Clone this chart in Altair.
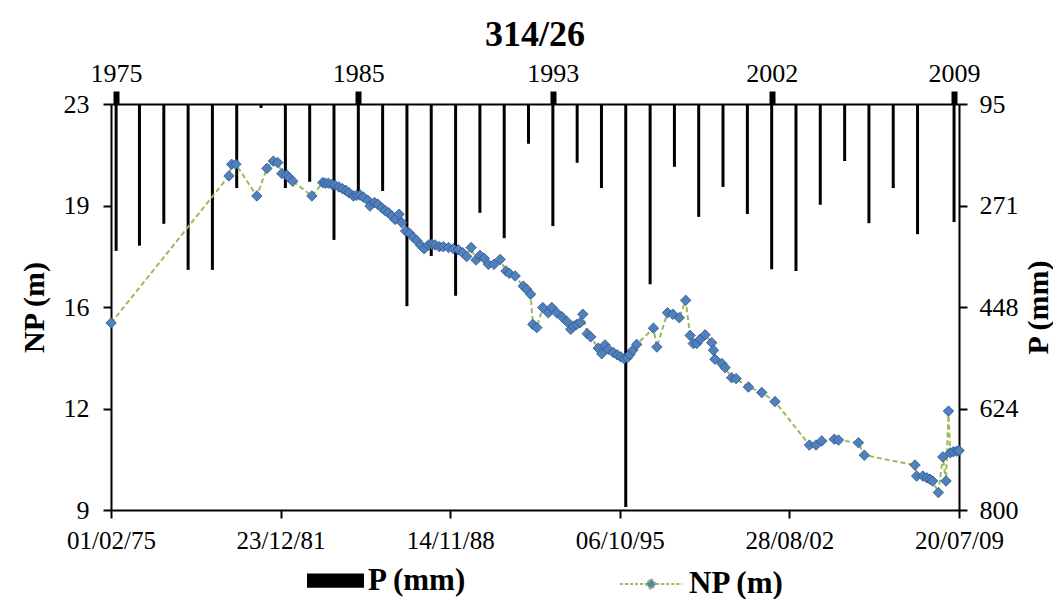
import altair as alt
import pandas as pd

FONT = "Liberation Serif"

# ---- NP (m): piezometric level, dates as decimal years ----
np_years = [1975.09, 1979.88, 1979.99, 1980.16, 1981.01, 1981.42, 1981.68, 1981.86, 1982.03, 1982.23, 1982.33, 1982.47,
            1983.25, 1983.69, 1983.79, 1983.92, 1984.06, 1984.19, 1984.35, 1984.49, 1984.63, 1984.76, 1984.94, 1985.07,
            1985.21, 1985.34, 1985.52, 1985.61, 1985.79, 1985.93, 1986.09, 1986.22, 1986.36, 1986.50, 1986.63, 1986.79,
            1986.90, 1987.06, 1987.22, 1987.37, 1987.51, 1987.67, 1987.81, 1987.98, 1988.12, 1988.26, 1988.43, 1988.59,
            1988.80, 1989.00, 1989.20, 1989.38, 1989.54, 1989.72, 1989.92, 1990.08, 1990.25, 1990.42, 1990.65, 1990.90,
            1991.14, 1991.27, 1991.51, 1991.84, 1991.98, 1992.14, 1992.23, 1992.39, 1992.63, 1992.86, 1993.00, 1993.20,
            1993.41, 1993.61, 1993.77, 1993.88, 1994.01, 1994.15, 1994.26, 1994.44, 1994.58, 1994.89, 1995.03, 1995.16,
            1995.30, 1995.50, 1995.66, 1995.80, 1995.94, 1996.07, 1996.18, 1996.29, 1996.45, 1997.13, 1997.27, 1997.70,
            1997.92, 1998.18, 1998.44, 1998.62, 1998.75, 1998.89, 1999.03, 1999.23, 1999.50, 1999.57, 1999.63, 1999.91,
            2000.04, 2000.31, 2000.49, 2000.99, 2001.53, 2002.07, 2003.47, 2003.74, 2003.97, 2004.48, 2004.65, 2005.46,
            2005.70, 2007.76, 2007.83, 2008.08, 2008.24, 2008.37, 2008.48, 2008.71, 2008.89, 2009.02, 2009.12, 2009.19,
            2009.32, 2009.46, 2009.55]
np_levels = [15.45, 20.52, 20.92, 20.92, 19.83, 20.78, 21.03, 20.98, 20.60, 20.55, 20.46, 20.34,
             19.83, 20.29, 20.27, 20.27, 20.23, 20.20, 20.14, 20.08, 20.02, 19.94, 19.83, 19.85,
             19.86, 19.79, 19.68, 19.48, 19.60, 19.54, 19.42, 19.33, 19.25, 19.14, 19.02, 19.20,
             18.91, 18.62, 18.54, 18.40, 18.29, 18.13, 18.01, 18.13, 18.16, 18.14, 18.08, 18.08,
             18.05, 18.01, 17.97, 17.87, 17.74, 18.05, 17.62, 17.78, 17.68, 17.47, 17.47, 17.64,
             17.24, 17.16, 17.07, 16.72, 16.61, 16.44, 15.40, 15.29, 15.98, 15.80, 15.98, 15.80,
             15.66, 15.50, 15.23, 15.34, 15.40, 15.46, 15.75, 15.08, 14.97, 14.58, 14.39, 14.69,
             14.54, 14.43, 14.35, 14.28, 14.22, 14.25, 14.37, 14.51, 14.71, 15.27, 14.62, 15.80,
             15.75, 15.63, 16.23, 15.02, 14.74, 14.74, 14.89, 15.04, 14.77, 14.51, 14.20, 14.05,
             13.91, 13.56, 13.53, 13.24, 13.05, 12.74, 11.24, 11.24, 11.38, 11.44, 11.41, 11.32,
             10.89, 10.55, 10.17, 10.17, 10.11, 10.06, 10.00, 9.60, 10.83, 10.00, 12.41, 10.97,
             11.01, 11.03, 11.05]

# ---- P (mm): annual precipitation, one bar per year ----
p_label_years = list(range(1975, 2010))
p_years = [1975.09, 1976.05, 1977.05, 1978.05, 1979.05, 1980.05, 1981.05, 1982.05, 1983.05, 1984.05,
           1985.05, 1986.05, 1987.05, 1988.05, 1989.05, 1990.05, 1991.05, 1992.05, 1993.05, 1994.05,
           1995.05, 1996.05, 1997.05, 1998.05, 1999.05, 2000.05, 2001.05, 2002.05, 2003.05, 2004.05,
           2005.05, 2006.05, 2007.05, 2008.05, 2009.55]
p_mm = [350, 341, 303, 383, 383, 241, 102, 241, 230, 331,
        258, 246, 446, 359, 428, 284, 328, 164, 307, 197,
        241, 795, 408, 204, 291, 239, 286, 382, 385, 270,
        194, 302, 241, 321, 300]
p_base = 95

top_label_years = [1975, 1985, 1993, 2002, 2009]
bottom_dates = ["1975-02-01", "1981-12-23", "1988-11-14", "1995-10-06", "2002-08-28", "2009-07-20"]
np_ticks = [9, 12.5, 16, 19.5, 23]
p_ticks = [95, 271.25, 447.5, 623.75, 800]


def year_to_ms(y):
    yi = int(y)
    a = pd.Timestamp(year=yi, month=1, day=1)
    b = pd.Timestamp(year=yi + 1, month=1, day=1)
    t = a + (b - a) * (y - yi)
    return int(round(t.timestamp() * 1000))


def date_to_ms(s):
    return int(pd.Timestamp(s).timestamp() * 1000)


x_dom = [date_to_ms(bottom_dates[0]), date_to_ms(bottom_dates[-1])]
bottom_ms = [date_to_ms(s) for s in bottom_dates]
top_ms = [year_to_ms(p_years[p_label_years.index(y)]) for y in top_label_years]

df_np = pd.DataFrame({"t": [year_to_ms(y) for y in np_years], "np": np_levels, "s": "NP (m)"})
df_p = pd.DataFrame({"t": [year_to_ms(y) for y in p_years], "p": p_mm, "s": "P (mm)"})

common_axis = dict(domainColor="black", domainWidth=2, tickColor="black",
                   labelFont=FONT, labelColor="black", grid=False,
                   titleFont=FONT, titleColor="black", titleFontWeight="bold", titleFontSize=30)

bars = alt.Chart(df_p).mark_bar(size=3).encode(
    x=alt.X("t:T", scale=alt.Scale(type="utc", domain=x_dom, nice=False),
            axis=alt.Axis(orient="top", values=top_ms, labelExpr="utcFormat(datum.value, '%Y')",
                          title=None, tickSize=13, tickWidth=6, labelPadding=5, labelFontSize=26,
                          labelAngle=0, labelOverlap=False, labelFlush=False, **common_axis)),
    y=alt.Y("p:Q", scale=alt.Scale(domain=[95, 800], reverse=True, nice=False, zero=False),
            axis=alt.Axis(orient="right", values=p_ticks, labelExpr="format(round(datum.value), 'd')",
                          title="P (mm)", titleAngle=270, titleBaseline="top", tickSize=8, tickWidth=2,
                          labelPadding=12, labelFontSize=26, titlePadding=5, **common_axis)),
    y2=alt.datum(p_base),
    color=alt.Color("s:N", scale=alt.Scale(domain=["P (mm)"], range=["black"]),
                    legend=alt.Legend(orient="none", legendX=196, legendY=448, title=None,
                                      symbolType="M-1,-0.25H1V0.25H-1Z", symbolSize=3249,
                                      symbolStrokeWidth=0, labelFont=FONT, labelFontSize=31,
                                      labelFontWeight="bold", labelColor="black", labelOffset=4)),
)

x_np = alt.X("t:T", scale=alt.Scale(type="utc", domain=x_dom, nice=False),
             axis=alt.Axis(orient="bottom", values=bottom_ms, labelExpr="utcFormat(datum.value, '%d/%m/%y')",
                           title=None, tickSize=8, tickWidth=2, labelPadding=10, labelFontSize=25, labelAngle=0,
                           labelOverlap=False, labelFlush=False, **common_axis))
y_np = alt.Y("np:Q", scale=alt.Scale(domain=[9, 23], nice=False, zero=False),
             axis=alt.Axis(orient="left", values=np_ticks, labelExpr="format(floor(datum.value), 'd')",
                           title="NP (m)", tickSize=8, tickWidth=2, labelPadding=14, labelFontSize=26,
                           titlePadding=14, **common_axis))

line = alt.Chart(df_np).mark_line(color="#9BBB59", strokeDash=[5, 3], strokeWidth=2).encode(x=x_np, y=y_np)
points = alt.Chart(df_np).mark_point(shape="diamond", filled=True, size=110, stroke="#2F528F",
                                     strokeWidth=0.8, opacity=1).encode(
    x=x_np, y=y_np,
    color=alt.Color("s:N", scale=alt.Scale(domain=["NP (m)"], range=["#4F81BD"]),
                    legend=alt.Legend(orient="none", legendX=508, legendY=448, title=None,
                                      symbolType="M-1,0H-0.17M0.17,0H1M0,-0.17L0.17,0L0,0.17L-0.17,0Z",
                                      symbolSize=3844, symbolStrokeColor="#9BBB59", symbolDash=[3, 2],
                                      symbolStrokeWidth=2, labelFont=FONT, labelFontSize=31,
                                      labelFontWeight="bold", labelColor="black", labelOffset=6)),
)

chart = alt.layer(bars, alt.layer(line, points)).resolve_scale(
    x="independent", y="independent", color="independent"
).properties(
    width=848, height=406,
    title=alt.TitleParams("314/26", font=FONT, fontSize=36, fontWeight="bold", color="black",
                          anchor="middle", offset=6),
    padding={"left": 11, "top": 9, "right": 0, "bottom": 0},
).configure_view(stroke=None).configure(background="white")

chart.save("out.html", embed_options={"renderer": "svg", "actions": False})
